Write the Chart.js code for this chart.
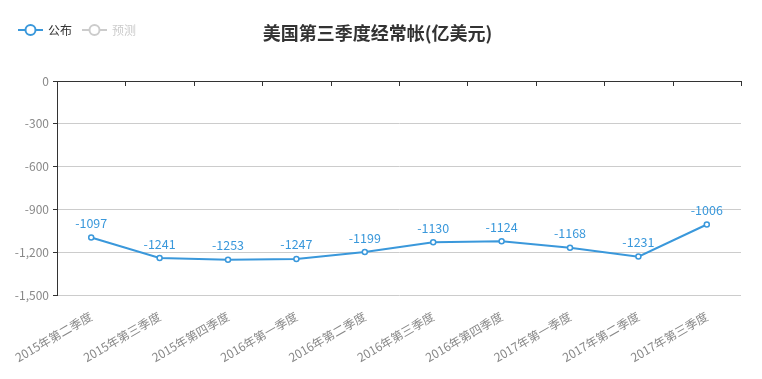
<!DOCTYPE html>
<html>
<head>
<meta charset="utf-8">
<script src="https://cdn.jsdelivr.net/npm/chart.js@4/dist/chart.umd.min.js"></script>
<style>
  html, body { margin: 0; padding: 0; background: #fff; }
  #wrap { width: 762px; height: 379px; position: relative; }
</style>
</head>
<body>
<div id="wrap"><canvas id="myChart"></canvas></div>
<script>
let quarters = ['2015年第二季度', '2015年第三季度', '2015年第四季度', '2016年第一季度', '2016年第二季度',
  '2016年第三季度', '2016年第四季度', '2017年第一季度', '2017年第二季度', '2017年第三季度'];
let published = [-1097, -1241, -1253, -1247, -1199, -1130, -1124, -1168, -1231, -1006];
let forecast = [];
let yTicks = [0, -300, -600, -900, -1200, -1500];

let blue = '#3a98db';
let fontFamily = '"Noto Sans CJK SC", "Microsoft YaHei", sans-serif';

// value labels above each point
let pointLabels = {
  id: 'pointLabels',
  afterDatasetsDraw(chart){
    let ctx = chart.ctx;
    let meta = chart.getDatasetMeta(0);
    ctx.save();
    ctx.font = '12.5px ' + fontFamily;
    ctx.fillStyle = blue;
    ctx.textAlign = 'center';
    ctx.textBaseline = 'bottom';
    meta.data.forEach(function(pt, i){
      ctx.fillText(String(published[i]), pt.x, pt.y - 8);
    });
    ctx.restore();
  }
};

// small ticks on the zero line between categories + legend
let decorations = {
  id: 'decorations',
  afterDraw(chart){
    let ctx = chart.ctx;
    let x = chart.scales.x;
    let y = chart.scales.y;
    let y0 = y.getPixelForValue(0);
    let step = x.getPixelForValue(1) - x.getPixelForValue(0);
    ctx.save();
    ctx.strokeStyle = '#333';
    ctx.lineWidth = 1;
    for (let i = 0; i <= quarters.length; i++){
      let px = Math.round(x.getPixelForValue(0) - step / 2 + i * step) + 0.5;
      ctx.beginPath();
      ctx.moveTo(px, y0);
      ctx.lineTo(px, y0 + 5);
      ctx.stroke();
    }

    // legend
    let items = [
      { text: '公布', color: blue, textColor: '#333', x: 18 },
      { text: '预测', color: '#ccc', textColor: '#ccc', x: 82 }
    ];
    ctx.font = '12px ' + fontFamily;
    ctx.textBaseline = 'middle';
    ctx.textAlign = 'left';
    items.forEach(function(it){
      let cy = 30;
      ctx.strokeStyle = it.color;
      ctx.lineWidth = 2;
      ctx.beginPath();
      ctx.moveTo(it.x, cy);
      ctx.lineTo(it.x + 25, cy);
      ctx.stroke();
      ctx.beginPath();
      ctx.arc(it.x + 12.5, cy, 5, 0, Math.PI * 2);
      ctx.fillStyle = '#fff';
      ctx.fill();
      ctx.stroke();
      ctx.fillStyle = it.textColor;
      ctx.fillText(it.text, it.x + 30, cy);
    });
    ctx.restore();
  }
};

let data = {
  labels: quarters,
  datasets: [
    {
      label: '公布',
      data: published,
      borderColor: blue,
      backgroundColor: '#fff',
      borderWidth: 2,
      pointRadius: 2.5,
      pointBorderWidth: 1.5,
      pointBackgroundColor: '#fff',
      pointBorderColor: blue,
      tension: 0
    },
    {
      label: '预测',
      data: forecast,
      hidden: true,
      borderColor: '#ccc'
    }
  ]
};

let config = {
  type: 'line',
  data: data,
  plugins: [pointLabels, decorations],
  options: {
    responsive: true,
    maintainAspectRatio: false,
    animation: false,
    layout: { padding: { left: 0, right: 7, top: 0, bottom: 0 } },
    plugins: {
      legend: { display: false },
      tooltip: { enabled: false },
      title: {
        display: true,
        text: '美国第三季度经常帐(亿美元)',
        color: '#333',
        font: { family: fontFamily, size: 18, weight: 'bold', lineHeight: 1.2 },
        padding: { top: 22, bottom: 37.4 }
      }
    },
    scales: {
      x: {
        offset: true,
        grid: { display: false, drawTicks: false },
        border: { display: false },
        ticks: {
          color: '#888',
          font: { family: fontFamily, size: 12 },
          minRotation: 30,
          maxRotation: 30,
          padding: 14,
          autoSkip: false
        },
        afterFit(scale){
          scale.height = 84;
          scale.paddingLeft = 0;
          scale.paddingRight = 0;
        }
      },
      y: {
        min: -1500,
        max: 0,
        afterBuildTicks(scale){
          scale.ticks = yTicks.slice().reverse().map(function(v){ return { value: v }; });
        },
        grid: {
          color: function(c){ return c.tick && c.tick.value === 0 ? '#333' : '#ccc'; },
          tickColor: '#333',
          tickLength: 4
        },
        border: { display: true, color: '#333' },
        ticks: {
          color: '#888',
          font: { family: fontFamily, size: 12 },
          padding: 4,
          callback: function(v){ return Number(v).toLocaleString('en-US'); }
        },
        afterFit(scale){ scale.width = 57; }
      },
      yRight: {
        position: 'right',
        display: true,
        min: -1500,
        max: 0,
        grid: { drawOnChartArea: false, drawTicks: false },
        border: { display: false },
        ticks: { display: false },
        afterFit(scale){ scale.width = 14; }
      }
    }
  }
};

let myChart = new Chart(document.getElementById('myChart'), config);
</script>
</body>
</html>
